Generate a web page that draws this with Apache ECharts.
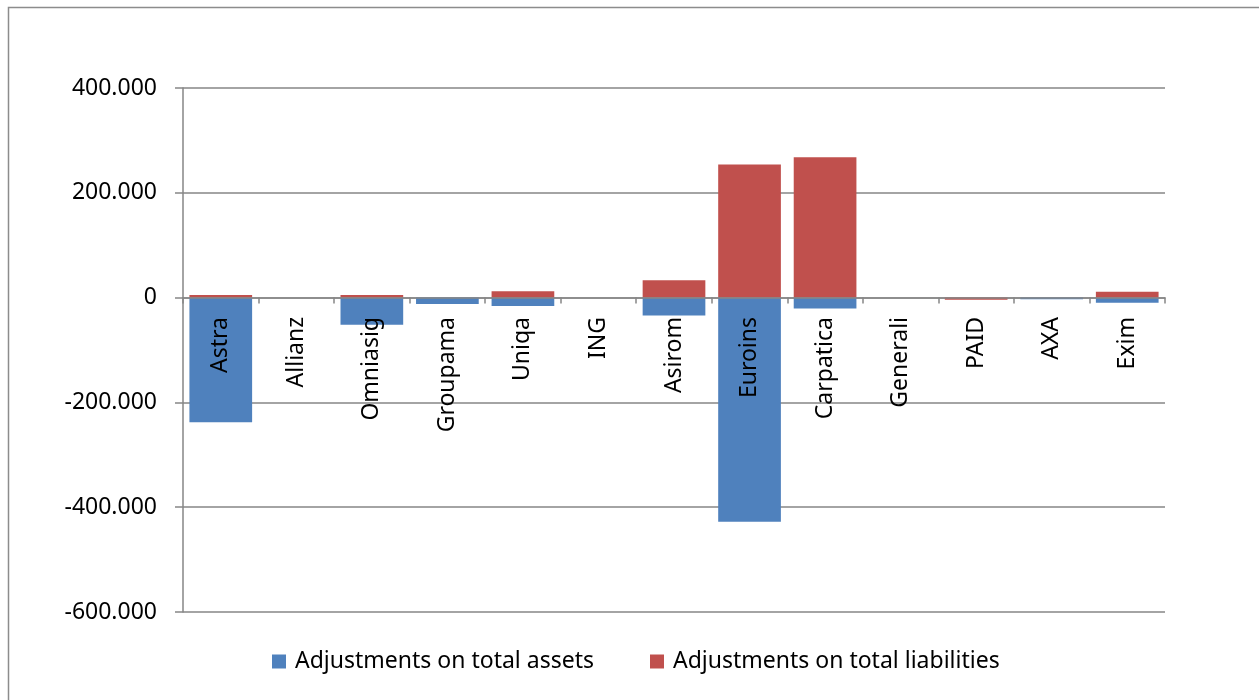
<!DOCTYPE html>
<html>
<head>
<meta charset="utf-8">
<script src="https://cdn.jsdelivr.net/npm/echarts@6/dist/echarts.min.js"></script>
<style>
html,body{margin:0;padding:0;background:#fff;}
#c{width:1259px;height:700px;}
</style>
</head>
<body>
<div id="c"></div>
<script>
const categories = ['Astra','Allianz','Omniasig','Groupama','Uniqa','ING','Asirom','Euroins','Carpatica','Generali','PAID','AXA','Exim'];
const assets = [-238, 0, -52, -12, -16, 0, -34, -428, -21, 0, 0, -3, -10];
const liabilities = [5, 0, 5, 0, 12, 0, 33, 254, 268, 0, -4, 0, 11];
const yTicks = {min: -600, max: 400, interval: 200};

const chart = echarts.init(document.getElementById('c'), null, {renderer: 'canvas'});
const FONT = 'Noto Sans';
const GRAY = '#868686';
chart.setOption({
  animation: false,
  backgroundColor: '#fff',
  graphic: [{
    type: 'rect', left: 6, top: 5, silent: true,
    shape: {width: 1400, height: 900},
    style: {fill: 'none', stroke: '#8c8c8c', lineWidth: 1.5}
  }],
  grid: {left: 183, right: 94, top: 88, bottom: 88, containLabel: false, outerBoundsMode: 'none'},
  legend: {
    bottom: 22, left: 267,
    itemWidth: 14, itemHeight: 14, itemGap: 56,
    icon: 'rect',
    textStyle: {fontFamily: FONT, fontSize: 23, color: '#000', padding: [0,0,0,4]},
    data: ['Adjustments on total assets', 'Adjustments on total liabilities']
  },
  xAxis: {
    type: 'category',
    z: 10,
    data: categories,
    axisLine: {onZero: true, lineStyle: {color: GRAY, width: 1.5}},
    axisTick: {show: true, length: 6, lineStyle: {color: GRAY, width: 1.5}},
    axisLabel: {rotate: 90, margin: -295, fontFamily: FONT, fontSize: 23, color: '#000', interval: 0},
    splitLine: {show: false}
  },
  yAxis: {
    type: 'value',
    min: yTicks.min, max: yTicks.max, interval: yTicks.interval,
    axisLine: {show: true, lineStyle: {color: GRAY, width: 1.5}},
    axisTick: {show: true, length: 8, lineStyle: {color: GRAY, width: 1.5}},
    axisLabel: {
      margin: 26, fontFamily: FONT, fontSize: 23, color: '#000',
      formatter: v => v === 0 ? '0' : v + '.000'
    },
    splitLine: {show: true, lineStyle: {color: GRAY, width: 1.5}}
  },
  series: [
    {
      name: 'Adjustments on total assets', type: 'bar', stack: 'a',
      data: assets, barCategoryGap: '17%',
      itemStyle: {color: '#4F81BD'}
    },
    {
      name: 'Adjustments on total liabilities', type: 'bar', stack: 'a',
      data: liabilities, barCategoryGap: '17%',
      itemStyle: {color: '#C0504D'}
    }
  ]
});
</script>
</body>
</html>
